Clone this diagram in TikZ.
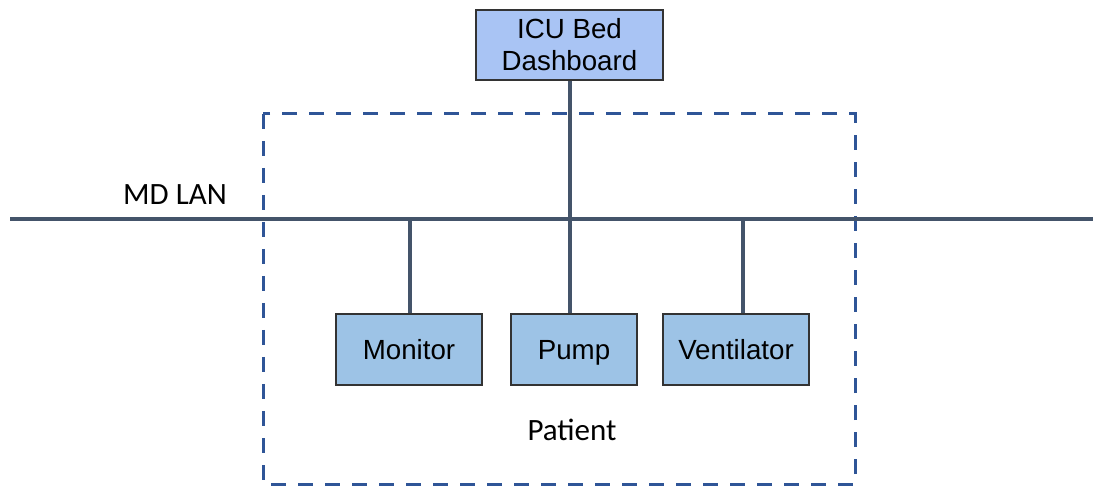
\documentclass[tikz,border=0pt]{standalone}
\usepackage{fontspec}
\setmainfont{Liberation Sans}
\newfontfamily\calfont{Carlito}
\begin{document}
\begin{tikzpicture}[x=1pt,y=-1pt,
  dev/.style={draw=black!80,line width=1.2pt,fill=devblue,inner sep=0pt,font=\fontsize{27.7}{32}\selectfont,text height=20pt,text depth=0pt},
  link/.style={draw=linkgray,line width=4pt},
  zone/.style={draw=zoneblue,line width=3pt,dash pattern=on 15pt off 12pt},
  lbl/.style={font=\calfont\fontsize{31}{34}\selectfont,inner sep=0pt}]
\definecolor{devblue}{HTML}{9DC3E6}
\definecolor{dashblue}{HTML}{A9C4F4}
\definecolor{linkgray}{HTML}{44546A}
\definecolor{zoneblue}{HTML}{2F5597}
\useasboundingbox (0,0) rectangle (1093,486);
\draw[zone] (263,114) rectangle (855,484);
\node[dev,fill=dashblue,minimum width=187pt,minimum height=70pt,align=center,text height=,text depth=,font=\fontsize{27.7}{32}\selectfont] (dash) at (569.5,45) {ICU Bed\\Dashboard};
\node[dev,minimum width=146pt,minimum height=71pt] (mon) at (409,349.5) {Monitor};
\node[dev,minimum width=126pt,minimum height=71pt] (pump) at (574,349.5) {Pump};
\node[dev,minimum width=146pt,minimum height=71pt] (vent) at (736,349.5) {Ventilator};
\coordinate (lanL) at (10,219);
\coordinate (lanR) at (1093,219);
\draw[link] (lanL) -- (lanR);
\draw[link] (570,0 |- dash.south) -- (570,0 |- pump.north);
\draw[link] (410,219) -- (410,0 |- mon.north);
\draw[link] (743,219) -- (743,0 |- vent.north);
\node[lbl] (lan) at (175,195) {MD LAN};
\node[lbl] (pat) at (572,430) {Patient};
\end{tikzpicture}
\end{document}
